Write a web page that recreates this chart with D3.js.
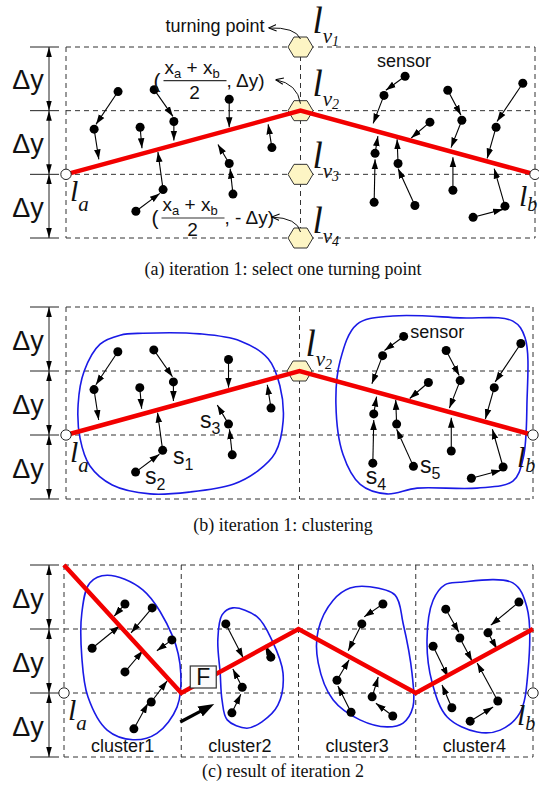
<!DOCTYPE html>
<html>
<head>
<meta charset="utf-8">
<script src="https://cdn.jsdelivr.net/npm/d3@7"></script>
<style>
body { margin: 0; background: #fff; }
svg { display: block; }
</style>
</head>
<body>
<svg id="fig" width="539" height="794"></svg>
<script>
// x: percent of the la..lb distance, y: multiples of Δy (la at y = 0)
var levels = [-1, 0, 1, 2];
var dyLabel = "Δy";

// each sensor: dot x, dot y, arrow tip x, arrow tip y
var sensorsAB = [
  [11.1, 1.30, 6.4, 0.785], [6.0, 0.71, 7.0, 0.235], [18.8, 1.33, 22.8, 0.91],
  [23.0, 0.83, 23.0, 0.53], [15.8, 0.74, 16.2, 0.41], [34.8, 1.18, 34.8, 0.74],
  [34.8, 0.17, 32.4, 0.47], [35.6, -0.31, 35.0, 0.09], [20.7, -0.24, 19.6, 0.35],
  [14.9, -0.58, 20.0, -0.30], [43.9, 0.42, 43.1, 0.785], [72.3, 1.54, 68.2, 1.32],
  [67.8, 1.24, 65.5, 0.80], [77.6, 0.82, 73.6, 0.57], [65.9, 0.33, 66.5, 0.60],
  [65.7, -0.44, 65.9, 0.235], [70.8, 0.17, 70.6, 0.55], [74.4, -0.49, 70.8, 0.09],
  [81.4, 1.32, 84.2, 0.93], [84.4, 0.85, 82.1, 0.42], [82.5, -0.25, 82.5, 0.27],
  [97.4, 1.43, 91.9, 0.83], [91.7, 0.74, 89.8, 0.25], [93.6, -0.50, 91.3, 0.09],
  [86.8, -0.675, 93.2, -0.55]
];
var sensorsC = [
  [13.0, 1.39, 10.7, 1.20], [6.0, 0.70, 11.9, 1.05], [18.8, 1.33, 14.3, 0.94],
  [23.0, 0.83, 19.8, 0.66], [13.0, 0.33, 16.8, 0.66], [14.9, -0.56, 17.9, -0.16],
  [18.6, -0.14, 22.0, 0.19], [34.5, 1.08, 38.2, 0.55], [44.1, 0.56, 42.9, 0.75],
  [38.0, 0.09, 36.0, 0.375], [35.8, -0.31, 37.7, -0.02], [68.0, 1.39, 64.0, 1.19],
  [63.5, 1.08, 60.6, 0.66], [58.2, 0.20, 60.8, 0.52], [61.2, -0.30, 58.4, 0.11],
  [65.7, -0.06, 67.0, 0.25], [70.1, -0.36, 66.5, -0.16], [81.4, 1.31, 84.2, 0.95],
  [84.4, 0.86, 87.0, 0.50], [97.0, 1.42, 91.0, 1.06], [90.4, 0.94, 92.3, 0.69],
  [78.7, 0.73, 81.9, 0.25], [82.7, -0.23, 80.6, 0.125], [92.5, -0.125, 88.1, 0.47],
  [86.6, -0.44, 91.5, -0.22]
];

var pathAB = [[0, 0], [50, 1], [100, 0]];
var pathC = [[0, 2], [25, 0], [50, 1], [75, 0], [100, 1]];
var splitsAB = [50];
var splitsC = [25, 50, 75];

var clustersB = [
  [[16.5,1.59],[28.7,1.58],[37.3,1.47],[43.3,1.19],[45.8,0.77],[46.5,0.22],[44.8,-0.28],
   [41.1,-0.56],[35.8,-0.77],[26.6,-0.89],[18.0,-0.92],[9.9,-0.78],[5.1,-0.48],[3.0,-0.05],
   [2.6,0.48],[3.9,1.0],[7.3,1.42],[11.6,1.56]],
  [[70.0,1.86],[84.4,1.83],[95.7,1.78],[98.3,1.52],[98.7,0.48],[97.9,-0.36],[95.7,-0.72],
   [88.0,-0.83],[75.2,-0.83],[68.7,-0.92],[63.0,-0.77],[59.3,-0.30],[57.8,0.48],[58.7,1.16],
   [62.3,1.73]]
];
var clustersC = [
  [[9.2,1.84],[16.8,1.61],[23.2,0.88],[24.9,0.31],[24.1,-0.22],[19.8,-0.63],[14.7,-0.73],
   [9.2,-0.58],[5.1,-0.06],[3.8,0.56],[3.8,1.25],[5.5,1.72]],
  [[36.0,1.33],[41.2,1.19],[44.3,0.83],[46.7,0.31],[45.6,-0.19],[42.2,-0.45],[39.0,-0.55],
   [34.8,-0.42],[33.7,-0.11],[33.3,0.31],[32.8,0.83],[33.7,1.22]],
  [[65.2,1.66],[70.6,1.53],[72.3,1.09],[74.2,0.31],[74.4,-0.22],[72.3,-0.47],[68.9,-0.53],
   [63.1,-0.42],[57.4,-0.11],[54.2,0.47],[54.2,0.98],[57.4,1.45],[61.0,1.64]],
  [[84.4,1.73],[95.7,1.72],[98.7,1.34],[98.9,0.31],[97.2,-0.31],[93.0,-0.58],[88.1,-0.61],
   [81.7,-0.375],[78.5,0.16],[77.4,0.83],[78.7,1.45],[81.2,1.69]]
];
var clusterNames = ["cluster1", "cluster2", "cluster3", "cluster4"];
var clusterNameX = [12.5, 37.5, 62.5, 87.5];

// s labels in panel (b): name, subscript, x, y
var sLabels = [
  ["s", "1", 22.9, -0.45], ["s", "2", 16.9, -0.77], ["s", "3", 28.7, 0.11],
  ["s", "4", 64.2, -0.77], ["s", "5", 75.8, -0.59]
];
var sensorWordA = [66.3, 1.68];
var sensorWordB = [73.7, 1.52];

var captions = ["(a) iteration 1: select one turning point", "(b) iteration 1: clustering", "(c) result of iteration 2"];

var SANS = "'Liberation Sans', Arial, sans-serif";
var SERIF = "'Liberation Serif', 'Times New Roman', serif";

var svg = d3.select("#fig");
var defs = svg.append("defs");

function addMarker(id, size, d, filled, orient) {
  var m = defs.append("marker")
    .attr("id", id)
    .attr("viewBox", "0 0 10 10")
    .attr("refX", 10).attr("refY", 5)
    .attr("markerUnits", "userSpaceOnUse")
    .attr("markerWidth", size).attr("markerHeight", size)
    .attr("orient", orient || "auto");
  var p = m.append("path").attr("d", d);
  if (filled) p.attr("fill", "#000");
  else p.attr("fill", "none").attr("stroke", "#000").attr("stroke-width", 1.3);
}
addMarker("tri", 10, "M0,1.7L10,5L0,8.3Z", true);
addMarker("dim", 10, "M0,2.2L10,5L0,7.8Z", true, "auto-start-reverse");
addMarker("open", 8, "M0,1L10,5L0,9", false);
addMarker("big", 16, "M0,1.5L10,5L0,8.5Z", true);

var panels = [
  {key: "a", left: 66, right: 535, top: 47, bottom: 238, capY: 275},
  {key: "b", left: 66, right: 533, top: 307, bottom: 499, capY: 531},
  {key: "c", left: 64, right: 533, top: 565, bottom: 757, capY: 777}
];

function hexPath(cx, cy) {
  var w = 12.5, h = 10, s = 6.5;
  return "M" + (cx - w) + "," + cy + "L" + (cx - s) + "," + (cy - h) + "L" + (cx + s) + "," + (cy - h) +
    "L" + (cx + w) + "," + cy + "L" + (cx + s) + "," + (cy + h) + "L" + (cx - s) + "," + (cy + h) + "Z";
}

function italicLabel(g, x, y, main, mainSize, sub, subSize, subDy, sub2) {
  var t = g.append("text").attr("x", x).attr("y", y)
    .attr("font-family", SERIF).attr("font-style", "italic").attr("fill", "#111");
  t.append("tspan").attr("font-size", mainSize).text(main);
  t.append("tspan").attr("font-size", subSize).attr("dy", subDy).text(sub);
  if (sub2) t.append("tspan").attr("font-size", 14).attr("dy", 3).text(sub2);
}

function formula(g, x0, tailY, tail) {
  var f = g.append("g").attr("font-family", SANS).attr("fill", "#111");
  f.append("text").attr("x", x0 - 1).attr("y", tailY + 1).attr("font-size", 21).text("(");
  var num = f.append("text").attr("x", x0 + 10).attr("y", tailY - 13).attr("font-size", 19);
  num.append("tspan").text("x");
  num.append("tspan").attr("font-size", 13).attr("dy", 4).text("a");
  num.append("tspan").attr("dy", -4).text(" + x");
  num.append("tspan").attr("font-size", 13).attr("dy", 4).text("b");
  f.append("line").attr("x1", x0 + 9).attr("x2", x0 + 72)
    .attr("y1", tailY - 6).attr("y2", tailY - 6).attr("stroke", "#333").attr("stroke-width", 1.1);
  f.append("text").attr("x", x0 + 40).attr("y", tailY + 12).attr("font-size", 19)
    .attr("text-anchor", "middle").text("2");
  f.append("text").attr("x", x0 + 72).attr("y", tailY).attr("font-size", 19).text(tail);
}

panels.forEach(function(p, pi) {
  var x = d3.scaleLinear().domain([0, 100]).range([p.left, p.right]);
  var y = d3.scaleLinear().domain([-1, 2]).range([p.bottom, p.top]);
  var g = svg.append("g").attr("class", "panel-" + p.key);
  var isC = p.key === "c";
  var splits = isC ? splitsC : splitsAB;

  // grid box
  g.selectAll(".hline").data(levels).enter().append("line")
    .attr("x1", x(0)).attr("x2", x(100))
    .attr("y1", function(d) { return y(d); }).attr("y2", function(d) { return y(d); })
    .attr("stroke", "#333").attr("stroke-width", 1).attr("stroke-dasharray", "5,4");
  g.selectAll(".vline").data([0].concat(splits, [100])).enter().append("line")
    .attr("x1", function(d) { return x(d); }).attr("x2", function(d) { return x(d); })
    .attr("y1", y(2)).attr("y2", y(-1))
    .attr("stroke", "#333").attr("stroke-width", 1).attr("stroke-dasharray", "5,4");

  // Δy dimension marks
  var dimX = 49;
  g.selectAll(".tick").data(levels).enter().append("line")
    .attr("x1", 30).attr("x2", 59)
    .attr("y1", function(d) { return y(d); }).attr("y2", function(d) { return y(d); })
    .attr("stroke", "#222").attr("stroke-width", 1);
  g.selectAll(".dim").data(levels.slice(0, 3)).enter().append("line")
    .attr("x1", dimX).attr("x2", dimX)
    .attr("y1", function(d) { return y(d); }).attr("y2", function(d) { return y(d + 1); })
    .attr("stroke", "#222").attr("stroke-width", 1)
    .attr("marker-start", "url(#dim)").attr("marker-end", "url(#dim)");
  g.selectAll(".dyl").data(levels.slice(0, 3)).enter().append("text")
    .attr("x", 28).attr("y", function(d) { return (y(d) + y(d + 1)) / 2 + 10.5; })
    .attr("text-anchor", "middle").attr("font-family", SANS).attr("font-size", 27)
    .attr("fill", "#111").text(dyLabel);

  // clusters
  var outline = d3.line().x(function(d) { return x(d[0]); }).y(function(d) { return y(d[1]); })
    .curve(d3.curveCatmullRomClosed.alpha(0.5));
  var clusters = p.key === "b" ? clustersB : (isC ? clustersC : []);
  g.selectAll(".cluster").data(clusters).enter().append("path")
    .attr("d", outline).attr("fill", "none").attr("stroke", "#1a1ae6").attr("stroke-width", 1.6);

  // sensors
  var sensors = isC ? sensorsC : sensorsAB;
  g.selectAll(".arr").data(sensors).enter().append("line")
    .attr("x1", function(d) { return x(d[0]); }).attr("y1", function(d) { return y(d[1]); })
    .attr("x2", function(d) { return x(d[2]); }).attr("y2", function(d) { return y(d[3]); })
    .attr("stroke", "#000").attr("stroke-width", 1.1).attr("marker-end", "url(#tri)");
  g.selectAll(".dot").data(sensors).enter().append("circle")
    .attr("cx", function(d) { return x(d[0]); }).attr("cy", function(d) { return y(d[1]); })
    .attr("r", 4.5).attr("fill", "#000");

  // turning point candidates
  var hexLevels = p.key === "a" ? levels : (p.key === "b" ? [1] : []);
  g.selectAll(".hex").data(hexLevels).enter().append("path")
    .attr("d", function(d) { return hexPath(x(50), y(d)); })
    .attr("fill", "#fdf5c4").attr("stroke", "#333").attr("stroke-width", 1);

  // red polyline
  var poly = d3.line().x(function(d) { return x(d[0]); }).y(function(d) { return y(d[1]); });
  g.append("path").datum(isC ? pathC : pathAB).attr("d", poly)
    .attr("fill", "none").attr("stroke", "#f20000").attr("stroke-width", 4.5)
    .attr("stroke-linejoin", "miter");

  // end points
  g.selectAll(".end").data([0, 100]).enter().append("circle")
    .attr("cx", function(d) { return x(d); }).attr("cy", y(0)).attr("r", 5.2)
    .attr("fill", "#fff").attr("stroke", "#222").attr("stroke-width", 1);
  italicLabel(g, x(0) + 4, y(0) + 27, "l", 30, "a", 21, 10);
  italicLabel(g, x(100) - 16, y(0) + 32, "l", 30, "b", 20, 5);

  if (p.key === "a") {
    var lvDy = {"-1": -5, "0": -6, "1": -15, "2": -14};
    levels.forEach(function(lv, i) {
      italicLabel(g, x(50) + 12, y(lv) + lvDy[lv], "l", 37, "v", 21, 10, String(4 - i));
    });
    g.append("text").attr("x", x(sensorWordA[0])).attr("y", y(sensorWordA[1]))
      .attr("font-family", SANS).attr("font-size", 18).attr("fill", "#111").text("sensor");
    g.append("text").attr("x", x(50) - 36).attr("y", y(2) - 15).attr("text-anchor", "end")
      .attr("font-family", SANS).attr("font-size", 18).attr("fill", "#111").text("turning point");
    formula(g, x(50) - 146, y(1) - 24, ", Δy)");
    formula(g, x(50) - 148, y(-1) - 14, ", - Δy)");
    var curves = [
      [x(50), y(2) - 8, x(50) - 5, y(2) - 20, x(50) - 32, y(2) - 19],
      [x(50), y(1) - 7, x(50) - 3, y(1) - 27, x(50) - 25, y(1) - 31],
      [x(50), y(-1) - 6, x(50) - 3, y(-1) - 20, x(50) - 29, y(-1) - 21]
    ];
    g.selectAll(".curve").data(curves).enter().append("path")
      .attr("d", function(c) { return "M" + c[0] + "," + c[1] + "Q" + c[2] + "," + c[3] + " " + c[4] + "," + c[5]; })
      .attr("fill", "none").attr("stroke", "#111").attr("stroke-width", 1)
      .attr("marker-end", "url(#open)");
  }

  if (p.key === "b") {
    italicLabel(g, x(50) + 6, y(1) - 15, "l", 37, "v", 21, 10, "2");
    g.append("text").attr("x", x(sensorWordB[0])).attr("y", y(sensorWordB[1]))
      .attr("font-family", SANS).attr("font-size", 18).attr("fill", "#111").text("sensor");
    sLabels.forEach(function(s) {
      var t = g.append("text").attr("x", x(s[2])).attr("y", y(s[3]))
        .attr("font-family", SANS).attr("font-size", 23).attr("fill", "#111");
      t.append("tspan").text(s[0]);
      t.append("tspan").attr("font-size", 16).attr("dy", 6).text(s[1]);
    });
  }

  if (isC) {
    g.selectAll(".cname").data(clusterNames).enter().append("text")
      .attr("x", function(d, i) { return x(clusterNameX[i]); }).attr("y", y(-1) - 5)
      .attr("text-anchor", "middle").attr("font-family", SANS).attr("font-size", 18)
      .attr("fill", "#111").text(function(d) { return d; });
    // F marker box
    var fx = x(25) + 9, fy = y(0) - 27;
    g.append("rect").attr("x", fx).attr("y", fy).attr("width", 26).attr("height", 22)
      .attr("fill", "#fbfbfb").attr("stroke", "#333").attr("stroke-width", 1.2);
    g.append("text").attr("x", fx + 13).attr("y", fy + 19).attr("text-anchor", "middle")
      .attr("font-family", SANS).attr("font-size", 23).attr("fill", "#111").text("F");
    // thick pointer arrow
    var ax0 = x(25) - 1, ay0 = y(0) + 29, ax1 = x(25) + 33, ay1 = y(0) + 11;
    var len = Math.hypot(ax1 - ax0, ay1 - ay0), k = (len - 12) / len;
    g.append("line").attr("x1", ax0).attr("y1", ay0)
      .attr("x2", ax0 + (ax1 - ax0) * k).attr("y2", ay0 + (ay1 - ay0) * k)
      .attr("stroke", "#000").attr("stroke-width", 3.2);
    g.append("path")
      .attr("d", "M" + ax0 + "," + ay0 + "L" + ax1 + "," + ay1)
      .attr("stroke", "none").attr("marker-end", "url(#big)");
  }

  svg.append("text").attr("x", 283).attr("y", p.capY).attr("text-anchor", "middle")
    .attr("font-family", SERIF).attr("font-size", 18).attr("fill", "#111").text(captions[pi]);
});
</script>
</body>
</html>
